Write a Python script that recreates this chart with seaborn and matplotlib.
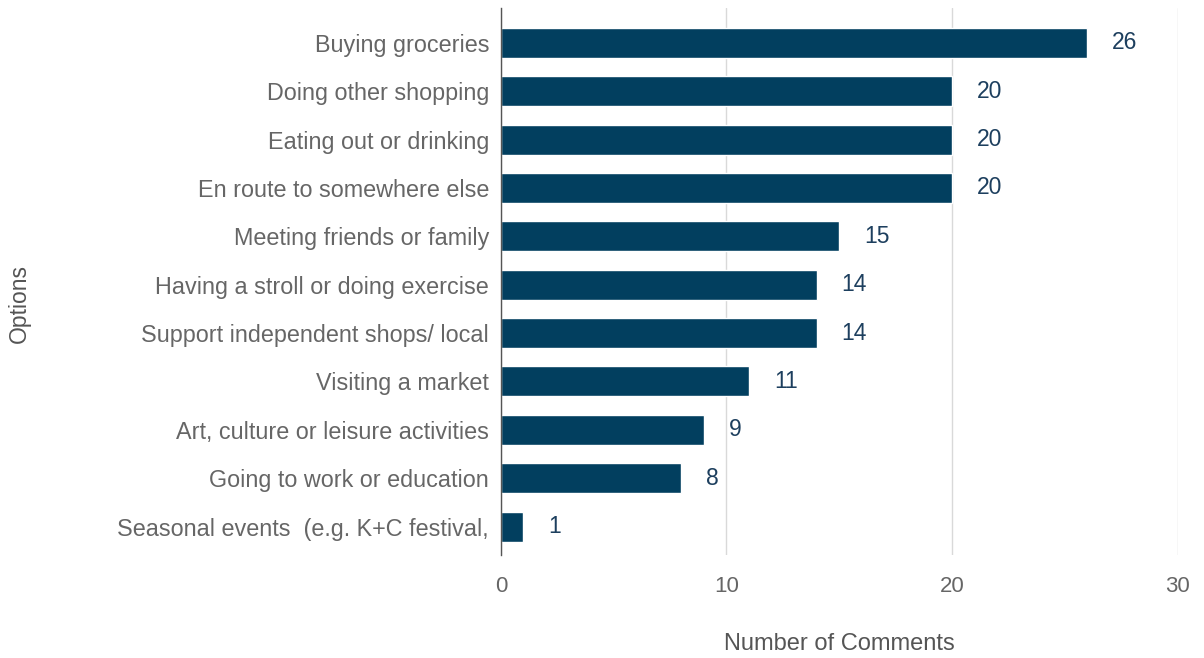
import matplotlib
matplotlib.use("Agg")
import matplotlib.pyplot as plt
import seaborn as sns
import pandas as pd

categories = [
    "Buying groceries",
    "Doing other shopping",
    "Eating out or drinking",
    "En route to somewhere else",
    "Meeting friends or family",
    "Having a stroll or doing exercise",
    "Support independent shops/ local",
    "Visiting a market",
    "Art, culture or leisure activities",
    "Going to work or education",
    "Seasonal events  (e.g. K+C festival,",
]
values = [26, 20, 20, 20, 15, 14, 14, 11, 9, 8, 1]
x_ticks = [0, 10, 20, 30]

sns.set_theme(style="white")
plt.rcParams['font.family'] = ['Liberation Sans', 'DejaVu Sans']

df = pd.DataFrame({"Options": categories, "Number of Comments": values})

fig = plt.figure(figsize=(12.04, 6.58), dpi=100)
ax = fig.add_axes([0.416, 0.157, 0.562, 0.831])

bar_color = "#023f5f"
sns.barplot(data=df, y="Options", x="Number of Comments", color=bar_color,
            width=0.62, saturation=1, ax=ax, orient="h")

ax.set_xlim(0, 30)
ax.set_ylim(10.58, -0.72)
ax.set_xticks(x_ticks)
ax.xaxis.grid(True, color="#d9d9d9", linewidth=1)
ax.set_axisbelow(True)
for s in ["top", "right", "bottom"]:
    ax.spines[s].set_visible(False)
ax.spines["left"].set_color("#555555")
ax.spines["left"].set_linewidth(1)

ax.tick_params(axis="y", length=0, pad=8.5, labelsize=16.8, labelcolor="#666666")
ax.tick_params(axis="x", length=0, pad=15, labelsize=16, labelcolor="#666666")

for i, v in enumerate(values):
    ax.text(v + 1.1, i, str(v), va="center", ha="left", fontsize=16.5, color="#1d3f5e")

ax.set_xlabel("Number of Comments", fontsize=17, color="#555555", labelpad=26)
ax.set_ylabel("Options", fontsize=16.5, color="#555555")
ax.yaxis.set_label_coords(-0.694, 0.46)

fig.savefig("out.png", dpi=100, facecolor="white")
